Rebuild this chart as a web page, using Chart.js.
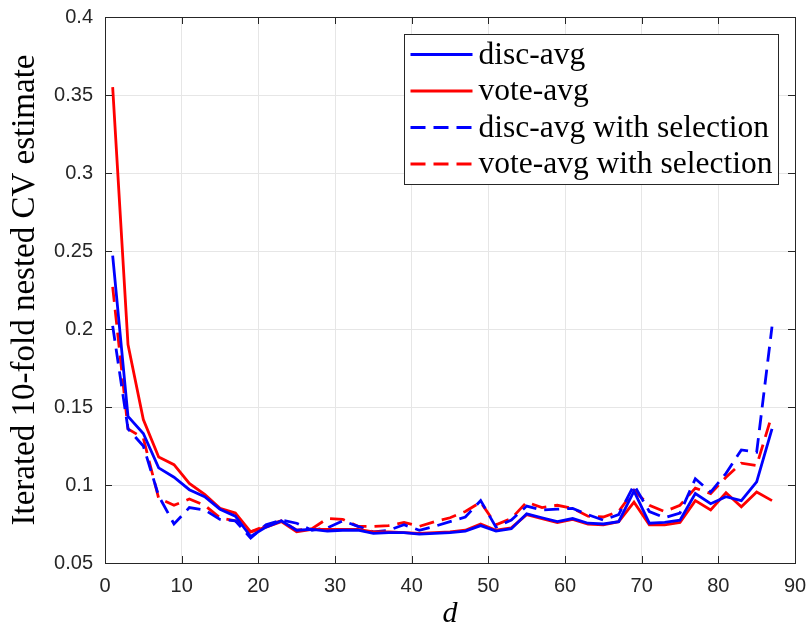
<!DOCTYPE html>
<html>
<head>
<meta charset="utf-8">
<script src="https://cdn.jsdelivr.net/npm/chart.js@4.4.1/dist/chart.umd.min.js"></script>
<style>
  html, body { margin: 0; padding: 0; background: #fff; }
</style>
</head>
<body>
<canvas id="cvChart" width="807" height="625"></canvas>
<script>
// d = 1, 3, 5, ..., 87
const dValues = [1, 3, 5, 7, 9, 11, 13, 15, 17, 19, 21, 23, 25, 27, 29, 31, 33, 35, 37, 39, 41, 43,
                 45, 47, 49, 51, 53, 55, 57, 59, 61, 63, 65, 67, 69, 71, 73, 75, 77, 79, 81, 83, 85, 87];

const discAvg = [0.247, 0.144, 0.133, 0.111, 0.105, 0.097, 0.0925, 0.0845, 0.080, 0.067, 0.073, 0.077,
                 0.071, 0.0715, 0.0705, 0.071, 0.071, 0.069, 0.0695, 0.0695, 0.0685, 0.069, 0.0695, 0.0705,
                 0.074, 0.0705, 0.072, 0.0815, 0.079, 0.0765, 0.0785, 0.0755, 0.075, 0.0765, 0.096, 0.0755,
                 0.076, 0.0775, 0.0945, 0.088, 0.0925, 0.090, 0.102, 0.136];

const voteAvg = [0.355, 0.190, 0.142, 0.118, 0.113, 0.101, 0.094, 0.085, 0.082, 0.070, 0.073, 0.0765,
                 0.070, 0.0715, 0.0715, 0.0715, 0.0715, 0.070, 0.070, 0.0695, 0.069, 0.0695, 0.070, 0.071,
                 0.075, 0.071, 0.0725, 0.081, 0.0785, 0.076, 0.078, 0.075, 0.0745, 0.0765, 0.089, 0.0745,
                 0.0745, 0.076, 0.090, 0.084, 0.095, 0.086, 0.0955, 0.090];

const discSel = [0.202, 0.136, 0.125, 0.093, 0.075, 0.0855, 0.084, 0.078, 0.077, 0.066, 0.0745, 0.0775,
                 0.0755, 0.071, 0.0725, 0.077, 0.0735, 0.070, 0.071, 0.0745, 0.071, 0.0735, 0.0765, 0.0795,
                 0.090, 0.073, 0.0775, 0.0865, 0.084, 0.0845, 0.085, 0.081, 0.0775, 0.081, 0.100, 0.083,
                 0.079, 0.082, 0.104, 0.0955, 0.1075, 0.1225, 0.121, 0.2015];

const voteSel = [0.227, 0.136, 0.130, 0.0915, 0.087, 0.091, 0.087, 0.079, 0.077, 0.070, 0.074, 0.077,
                 0.071, 0.072, 0.0785, 0.078, 0.0735, 0.0735, 0.074, 0.076, 0.0735, 0.0765, 0.079, 0.083,
                 0.089, 0.0745, 0.0785, 0.089, 0.0855, 0.087, 0.085, 0.080, 0.0795, 0.083, 0.0965, 0.087,
                 0.083, 0.087, 0.098, 0.0945, 0.105, 0.114, 0.1125, 0.145];

const seriesNames = ['disc-avg', 'vote-avg', 'disc-avg with selection', 'vote-avg with selection'];

const xTicks = [0, 10, 20, 30, 40, 50, 60, 70, 80, 90];
const yTicks = [0.05, 0.1, 0.15, 0.2, 0.25, 0.3, 0.35, 0.4];

const BLUE = '#0000ff';
const RED = '#ff0000';
const AXIS = '#262626';
const DASH = [15, 8];

function toPoints(values) {
  return values.map((v, i) => ({ x: dValues[i], y: v }));
}

function line(label, values, color, dashed) {
  return {
    label: label,
    data: toPoints(values),
    borderColor: color,
    backgroundColor: color,
    borderWidth: 2.8,
    borderDash: dashed ? DASH : [],
    pointRadius: 0,
    tension: 0,
    fill: false
  };
}

// keep tick labels from pushing the plot area in; layout.padding decides it
function noOverflow(scale) {
  scale.paddingTop = 0;
  scale.paddingBottom = 0;
  scale.paddingLeft = 0;
  scale.paddingRight = 0;
}

// box around the axes, inward ticks on all four sides, and the boxed legend
const frameAndLegend = {
  id: 'frameAndLegend',
  afterDraw(chart) {
    const { ctx, chartArea: a, scales: { x, y } } = chart;
    const tl = 7;
    ctx.save();
    ctx.strokeStyle = AXIS;
    ctx.lineWidth = 1;
    ctx.setLineDash([]);
    ctx.beginPath();
    xTicks.forEach(v => {
      const px = Math.round(x.getPixelForValue(v)) + 0.5;
      ctx.moveTo(px, a.bottom); ctx.lineTo(px, a.bottom - tl);
      ctx.moveTo(px, a.top); ctx.lineTo(px, a.top + tl);
    });
    yTicks.forEach(v => {
      const py = Math.round(y.getPixelForValue(v)) + 0.5;
      ctx.moveTo(a.left, py); ctx.lineTo(a.left + tl, py);
      ctx.moveTo(a.right, py); ctx.lineTo(a.right - tl, py);
    });
    ctx.stroke();
    ctx.strokeRect(Math.round(a.left) + 0.5, Math.round(a.top) + 0.5,
                   Math.round(a.right - a.left), Math.round(a.bottom - a.top));

    // legend
    const bw = 374, bh = 150;
    const bx = Math.round(a.right - 17 - bw) + 0.5;
    const by = Math.round(a.top + 17) + 0.5;
    ctx.fillStyle = '#ffffff';
    ctx.fillRect(bx, by, bw, bh);
    ctx.strokeStyle = AXIS;
    ctx.strokeRect(bx, by, bw, bh);
    ctx.font = '31.5px "Liberation Serif", "Times New Roman", serif';
    ctx.textBaseline = 'middle';
    ctx.textAlign = 'left';
    chart.data.datasets.forEach((ds, i) => {
      const ry = by + 20 + i * 36.5;
      ctx.beginPath();
      ctx.strokeStyle = ds.borderColor;
      ctx.lineWidth = ds.borderWidth;
      ctx.setLineDash(ds.borderDash);
      ctx.moveTo(bx + 6, ry);
      ctx.lineTo(bx + 68, ry);
      ctx.stroke();
      ctx.fillStyle = '#000000';
      ctx.fillText(ds.label, bx + 74, ry + 1);
    });
    ctx.restore();
  }
};

new Chart(document.getElementById('cvChart'), {
  type: 'line',
  data: {
    datasets: [
      line(seriesNames[0], discAvg, BLUE, false),
      line(seriesNames[1], voteAvg, RED, false),
      line(seriesNames[2], discSel, BLUE, true),
      line(seriesNames[3], voteSel, RED, true)
    ]
  },
  options: {
    responsive: false,
    animation: false,
    layout: { padding: { top: 17, right: 12, left: 0, bottom: 0 } },
    plugins: {
      legend: { display: false },
      tooltip: { enabled: false }
    },
    scales: {
      x: {
        type: 'linear',
        min: 0,
        max: 90,
        afterFit(scale) { scale.height = 62; noOverflow(scale); },
        afterBuildTicks(scale) { scale.ticks = xTicks.map(v => ({ value: v })); },
        grid: { color: '#e6e6e6', lineWidth: 1, drawTicks: false },
        border: { display: false },
        ticks: {
          padding: 11,
          color: AXIS,
          font: { family: '"Liberation Sans", Arial, sans-serif', size: 20 },
          maxRotation: 0
        },
        title: {
          display: true,
          text: 'd',
          color: '#000000',
          padding: { top: 0, bottom: 0 },
          font: { family: '"Liberation Serif", serif', size: 30, style: 'italic', lineHeight: 0.7 }
        }
      },
      y: {
        type: 'linear',
        min: 0.05,
        max: 0.4,
        afterFit(scale) { scale.width = 105; noOverflow(scale); },
        afterBuildTicks(scale) { scale.ticks = yTicks.map(v => ({ value: v })); },
        grid: { color: '#e6e6e6', lineWidth: 1, drawTicks: false },
        border: { display: false },
        ticks: {
          padding: 12,
          color: AXIS,
          font: { family: '"Liberation Sans", Arial, sans-serif', size: 20 },
          callback: v => String(Number(v.toFixed(2)))
        },
        title: {
          display: true,
          text: 'Iterated 10-fold nested CV estimate',
          color: '#000000',
          padding: { top: 9, bottom: 0 },
          font: { family: '"Liberation Serif", serif', size: 33, lineHeight: 1 }
        }
      }
    }
  },
  plugins: [frameAndLegend]
});
</script>
</body>
</html>
